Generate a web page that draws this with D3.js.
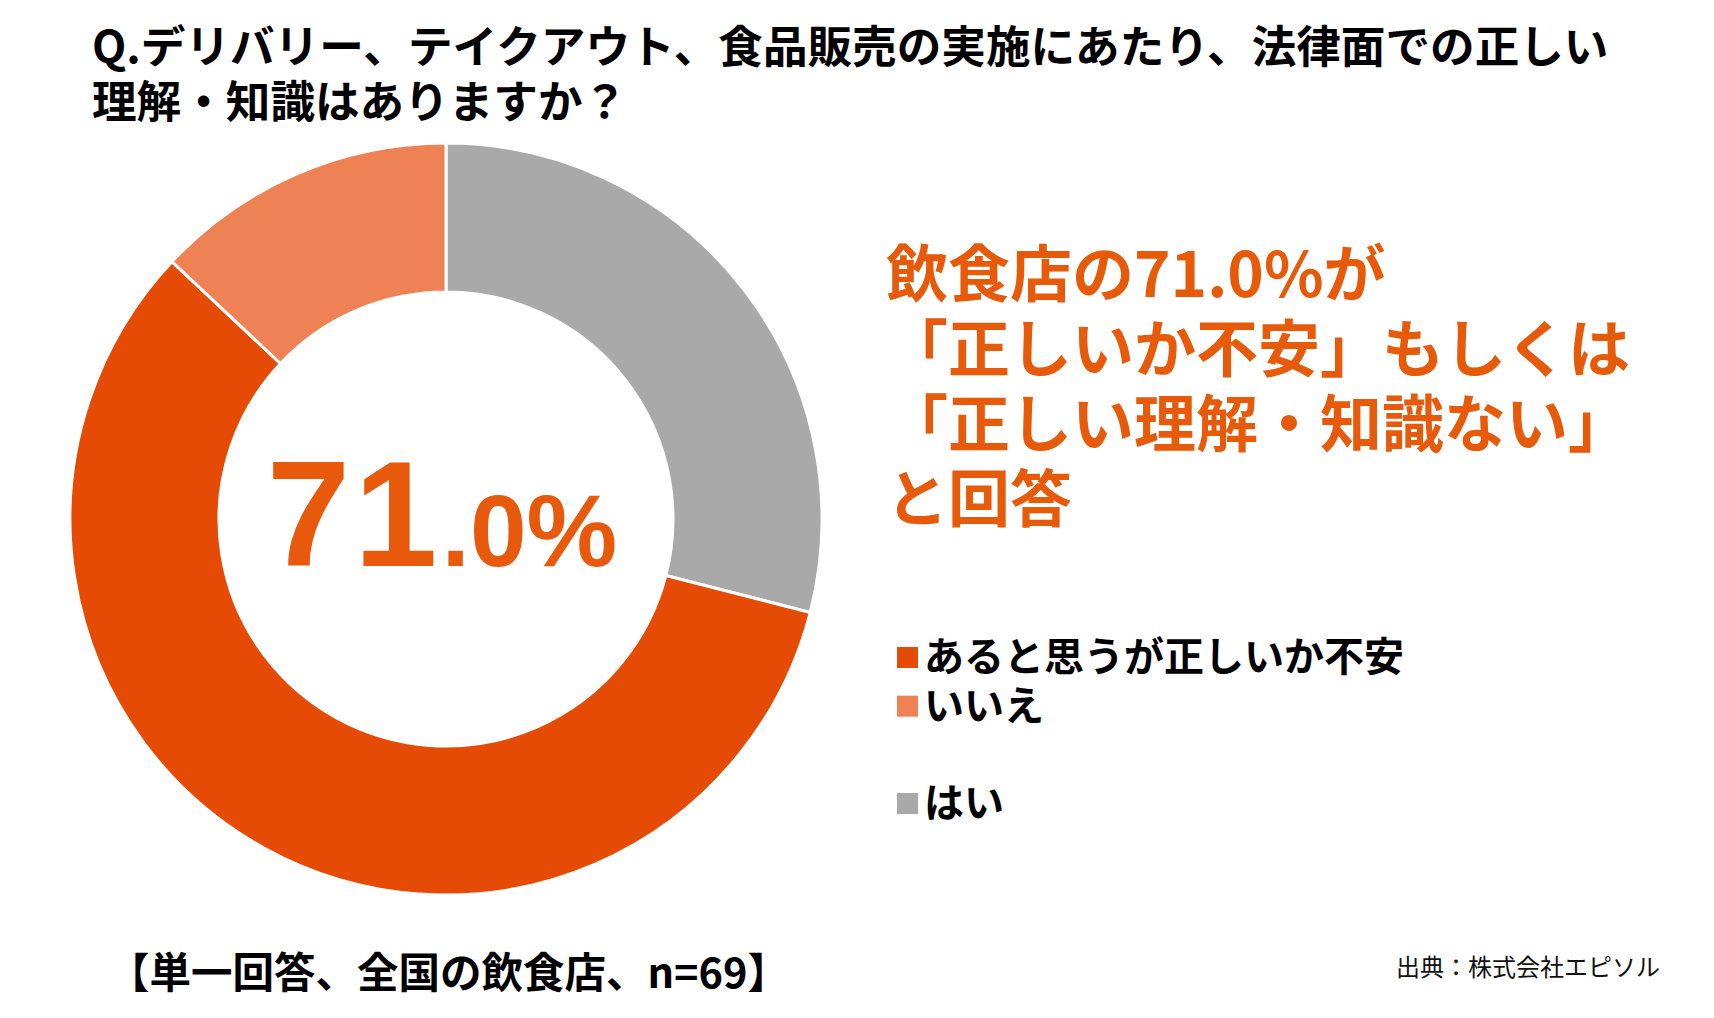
<!DOCTYPE html>
<html>
<head>
<meta charset="utf-8">
<script src="https://cdn.jsdelivr.net/npm/d3@7"></script>
<style>
  body { margin: 0; background: #fff; }
  text { font-family: "Noto Sans CJK JP", sans-serif; }
</style>
</head>
<body>
<div id="chart"></div>
<script>
// data (n=69)
var categories = ["はい", "あると思うが正しいか不安", "いいえ"];
var values = [29.0, 58.0, 13.0];
var legendOrder = ["あると思うが正しいか不安", "いいえ", "", "はい"];
var titleLines = ["Q.デリバリー、テイクアウト、食品販売の実施にあたり、法律面での正しい", "理解・知識はありますか？"];
var headlineLines = ["飲食店の71.0%が", "「正しいか不安」もしくは", "「正しい理解・知識ない」", "と回答"];
var centerBig = "71";
var centerSmall = ".0%";
var footnote = "【単一回答、全国の飲食店、n=69】";
var source = "出典：株式会社エピソル";

var svgWidth = 1714;
var svgHeight = 1018;

var svg = d3.select("#chart")
  .append("svg")
  .attr("width", svgWidth)
  .attr("height", svgHeight);

var color = d3.scaleOrdinal()
  .domain(categories)
  .range(["#a9a9a9", "#e64b05", "#ee8254"]);

// Title
svg.append("g").selectAll("text")
  .data(titleLines)
  .enter()
  .append("text")
  .attr("x", 92)
  .attr("y", (d, i) => 47 + i * 55)
  .attr("dy", "0.36em")
  .attr("font-size", 44.6)
  .attr("font-weight", "bold")
  .attr("fill", "#000")
  .text(d => d);

// Donut
var cx = 446, cy = 519;
var pie = d3.pie().sort(null).value(d => d.value);
var arc = d3.arc().innerRadius(227).outerRadius(376);

var pieData = pie(categories.map((c, i) => ({ name: c, value: values[i] })));

var donut = svg.append("g")
  .attr("transform", `translate(${cx}, ${cy})`);

donut.selectAll("path")
  .data(pieData)
  .enter()
  .append("path")
  .attr("d", arc)
  .attr("fill", d => color(d.data.name))
  .attr("stroke", "#fff")
  .attr("stroke-width", 3);

// Center value
var center = donut.append("text")
  .attr("x", -4)
  .attr("y", 47)
  .attr("text-anchor", "middle")
  .attr("fill", "#e8590c")
  .attr("font-weight", "bold")
  .style("font-family", "'Liberation Sans', Arial, sans-serif");
center.append("tspan").attr("font-size", 150).attr("letter-spacing", 4).text(centerBig);
center.append("tspan").attr("font-size", 102).text(centerSmall);

// Headline
svg.append("g").selectAll("text")
  .data(headlineLines)
  .enter()
  .append("text")
  .attr("x", 886)
  .attr("y", (d, i) => 275 + i * 75)
  .attr("dy", "0.36em")
  .attr("font-size", 62)
  .attr("font-weight", "bold")
  .attr("fill", "#e65a0a")
  .text(d => d);

// Legend
var legendY = d3.scalePoint()
  .domain(d3.range(legendOrder.length))
  .range([657, 803]);

var legend = svg.append("g").selectAll("g")
  .data(legendOrder.map((d, i) => ({ name: d, i: i })).filter(d => d.name !== ""))
  .enter()
  .append("g")
  .attr("transform", d => `translate(897, ${legendY(d.i)})`);

legend.append("rect")
  .attr("x", 0)
  .attr("y", -10)
  .attr("width", 21)
  .attr("height", 21)
  .attr("fill", d => color(d.name));

legend.append("text")
  .attr("x", 27)
  .attr("dy", "0.36em")
  .attr("font-size", 40)
  .attr("font-weight", "bold")
  .attr("fill", "#000")
  .text(d => d.name);

// Footnote and source
svg.append("text")
  .attr("x", 108)
  .attr("y", 973)
  .attr("dy", "0.36em")
  .attr("font-size", 41.5)
  .attr("font-weight", "bold")
  .attr("fill", "#000")
  .text(footnote);

svg.append("text")
  .attr("x", 1660)
  .attr("y", 967)
  .attr("dy", "0.36em")
  .attr("text-anchor", "end")
  .attr("font-size", 24)
  .attr("fill", "#111")
  .text(source);
</script>
</body>
</html>
